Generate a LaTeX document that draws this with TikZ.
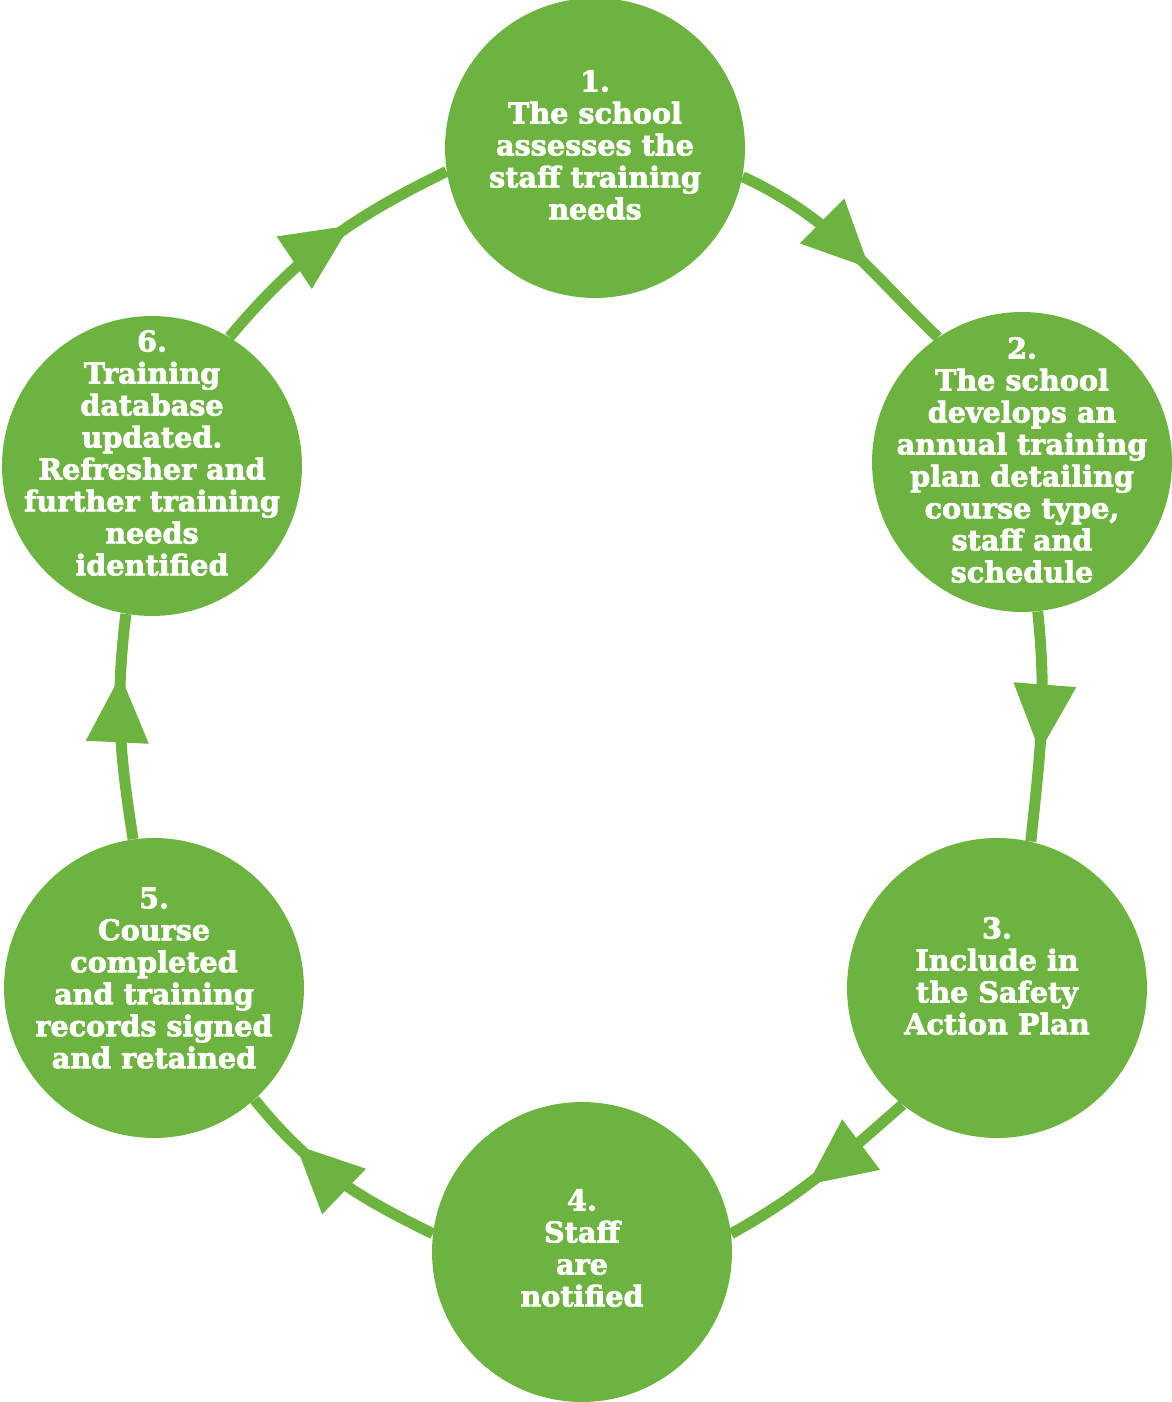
\documentclass[tikz,border=0pt]{standalone}
\usepackage{fontspec}
\newfontfamily\stepfamily[BoldFeatures={FakeBold=2.5}]{DejaVu Serif}
\usetikzlibrary{arrows.meta,decorations.markings}
\definecolor{stepgreen}{RGB}{109,179,63}
\newcommand{\stepfont}{\stepfamily\bfseries\fontsize{16.3}{18.2}\selectfont}
\tikzstyle{stepcirc} = [circle, fill=stepgreen, 
    minimum size=6cm, inner sep=0pt]
\tikzstyle{steptext} = [text=white, align=center, font=\stepfont]
\tikzset{flow/.style={color=stepgreen, line width=0.22cm,
    postaction={decorate}, decoration={markings,
    mark=at position #1 with {\arrow{Triangle[length=1.35cm, width=1.2cm]}}}}}

\begin{document}
\begin{tikzpicture}[x=0.02cm, y=0.02cm]
    \useasboundingbox (0,0) rectangle (1171,1402);

    \node (s1) [stepcirc] at (595,1254) {};
    \node (s2) [stepcirc] at (1022,940) {};
    \node (s3) [stepcirc] at (997,414) {};
    \node (s4) [stepcirc] at (582,150) {};
    \node (s5) [stepcirc] at (154,414) {};
    \node (s6) [stepcirc] at (152,936) {};

    % texts sit a bit above the centres
    \node (t1) [steptext] at ([yshift=0.06cm]s1) {1.\\The school\\assesses the\\staff training\\needs};
    \node (t2) [steptext] at ([yshift=0.04cm]s2) {2.\\The school\\develops an\\annual training\\plan detailing\\course type,\\staff and\\schedule};
    \node (t3) [steptext] at ([yshift=0.24cm]s3) {3.\\Include in\\the Safety\\Action Plan};
    \node (t4) [steptext] at ([yshift=0.08cm]s4) {4.\\Staff\\are\\notified};
    \node (t5) [steptext] at ([yshift=0.2cm]s5) {5.\\Course\\completed\\and training\\records signed\\and retained};
    \node (t6) [steptext] at ([yshift=0.26cm]s6) {6.\\Training\\database\\updated.\\Refresher and\\further training\\needs\\identified};

    \draw [flow=0.62] (s1.-11) to[out=-25, in=136] (s2.124);
    \draw [flow=0.61] (s2.-84) to[out=-84, in=84] (s3.77);
    \draw [flow=0.58] (s3.-129) to[out=-139, in=29] (s4.7);
    \draw [flow=0.73] (s4.173) to[out=154, in=-51] (s5.-48);
    \draw [flow=0.73] (s5.98) to[out=99, in=-97] (s6.-100);
    \draw [flow=0.6] (s6.59) to[out=50, in=206] (s1.189);
\end{tikzpicture}
\end{document}
